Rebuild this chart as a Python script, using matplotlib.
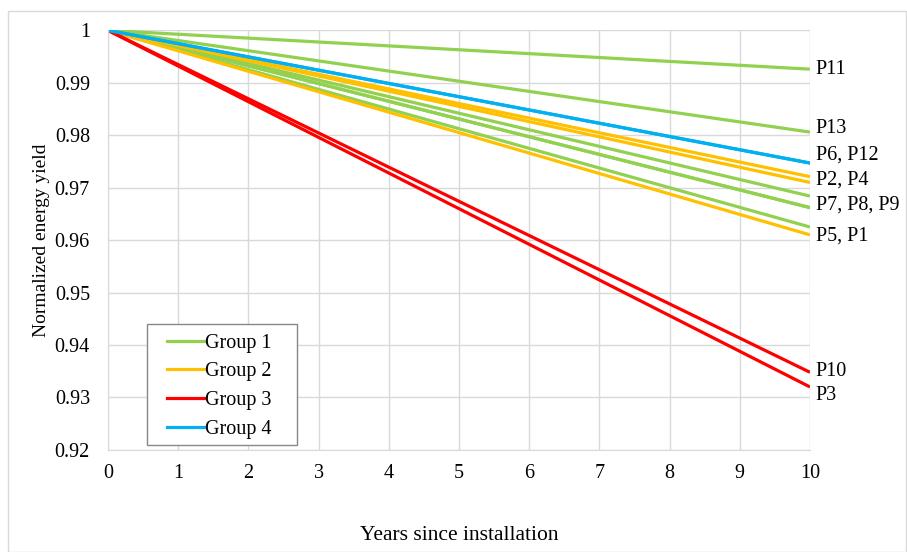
import matplotlib.pyplot as plt
from matplotlib.patches import Rectangle

plt.rcParams['font.family'] = ['Liberation Serif', 'DejaVu Serif']

years = [0, 10]
# end-of-period normalized yield per plant (start = 1)
plants = ['P11', 'P13', 'P7', 'P8', 'P9', 'P5', 'P2', 'P4', 'P1', 'P10', 'P3', 'P6', 'P12']
end_vals = [0.9926, 0.9806, 0.9684, 0.9662, 0.9662, 0.9625, 0.9721, 0.9710, 0.9610, 0.9348, 0.9320, 0.9747, 0.9747]
groups = [1, 1, 1, 1, 1, 1, 2, 2, 2, 3, 3, 4, 4]
group_colors = {1: '#92D050', 2: '#FFC000', 3: '#FF0000', 4: '#00B0F0'}

label_text = ['P11', 'P13', 'P6, P12', 'P2, P4', 'P7, P8, P9', 'P5, P1', 'P10', 'P3']
label_y = [0.9926, 0.9813, 0.9763, 0.9715, 0.9666, 0.9607, 0.9349, 0.9303]

fs = 14.5

fig = plt.figure(figsize=(9.07, 5.52), dpi=100)
ax = fig.add_axes([0.119, 0.185, 0.774, 0.76])

for g in [1, 2, 3, 4]:
    for p, v, gg in zip(plants, end_vals, groups):
        if gg == g:
            ax.plot(years, [1, v], color=group_colors[g], lw=2.3, solid_capstyle='butt')

for t, y in zip(label_text, label_y):
    ax.text(10.08, y, t, fontsize=fs, va='center', ha='left')

# legend box drawn separately so it can be wider than the entries
ax.add_patch(Rectangle((0.0556, 0.012), 0.2137, 0.288, transform=ax.transAxes,
                       facecolor='white', edgecolor='#888888', lw=1.0, zorder=4))
handles = [plt.Line2D([], [], color=group_colors[g], lw=2.3) for g in [1, 2, 3, 4]]
leg = ax.legend(handles, ['Group 1', 'Group 2', 'Group 3', 'Group 4'],
                loc='lower left', bbox_to_anchor=(0.084, 0.026), fontsize=fs,
                frameon=False, handlelength=1.85, handletextpad=0.05,
                labelspacing=0.48, borderpad=0, borderaxespad=0)
leg.set_zorder(5)

ax.set_xlim(0, 10)
ax.set_ylim(0.92, 1.0)
ax.set_xticks(range(0, 11))
ax.set_yticks([0.92, 0.93, 0.94, 0.95, 0.96, 0.97, 0.98, 0.99, 1.0])
ax.set_yticklabels(['0.92', '0.93', '0.94', '0.95', '0.96', '0.97', '0.98', '0.99', '1'])
ax.tick_params(length=0, labelsize=fs)
ax.tick_params(axis='y', pad=13)
ax.tick_params(axis='x', pad=10)
ax.grid(True, color='#D9D9D9', lw=1)
ax.set_axisbelow(True)
for s in ['top', 'right']:
    ax.spines[s].set_visible(False)
for s in ['left', 'bottom']:
    ax.spines[s].set_color('#D9D9D9')

ax.set_xlabel('Years since installation', fontsize=15.5, labelpad=31)
ax.set_ylabel('Normalized energy yield', fontsize=14, labelpad=3)

fig.patches.append(Rectangle((0.009, 0.0), 0.99, 0.98, transform=fig.transFigure,
                             fill=False, edgecolor='#D9D9D9', lw=1))

fig.savefig('out.png', dpi=100)
